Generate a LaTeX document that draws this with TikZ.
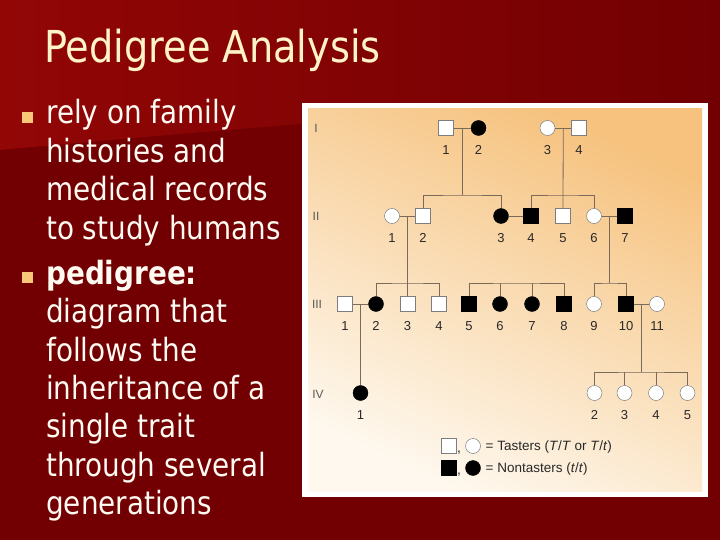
\documentclass[tikz,border=0pt]{standalone}
\usepackage{fontspec}
\newfontfamily\slidefont[FakeStretch=0.87]{DejaVu Sans}
\newfontfamily\pedfont{Liberation Sans}
\usetikzlibrary{calc}
\definecolor{bgred}{RGB}{114,0,2}
\definecolor{bgtop}{RGB}{146,6,6}
\definecolor{titlecol}{RGB}{255,244,200}
\definecolor{bodycol}{RGB}{255,250,242}
\definecolor{bulletcol}{RGB}{250,198,122}
\definecolor{panelA}{RGB}{246,194,126}
\definecolor{panelB}{RGB}{254,248,238}
\definecolor{pedline}{RGB}{122,106,90}
\definecolor{outl}{RGB}{125,125,125}
\definecolor{numcol}{RGB}{40,40,40}
\newcommand\pers[5]{%
  \node[#2] (#1) at (#3,#4) {};
  \node[lab] (#1l) at (#3,{#4+22}) {#5};}
\begin{document}
\begin{tikzpicture}[x=1pt,y=-1pt,
  sq/.style={rectangle,draw=outl,fill=white,line width=0.5pt,minimum size=15pt,inner sep=0pt},
  fsq/.style={rectangle,draw=black,fill=black,minimum size=15pt,inner sep=0pt},
  ci/.style={circle,draw=outl,fill=white,line width=0.5pt,minimum size=15pt,inner sep=0pt},
  fci/.style={circle,draw=black,fill=black,minimum size=15pt,inner sep=0pt},
  lab/.style={inner sep=0pt,text=numcol,font=\pedfont\fontsize{13}{15}\selectfont},
  gen/.style={inner sep=0pt,text=black!65,font=\pedfont\fontsize{12}{14}\selectfont},
  ped/.style={draw=pedline,line width=0.8pt},
  body/.style={anchor=base west,inner sep=0pt,text=bodycol,font=\slidefont\fontsize{32}{38}\selectfont},
  bullet/.style={rectangle,fill=bulletcol,minimum size=11pt,inner sep=0pt},
  legtext/.style={anchor=west,inner sep=0pt,text=numcol,font=\pedfont\fontsize{13.5}{16}\selectfont}
]
\useasboundingbox (0,0) rectangle (720,540);
% background
\fill[bgred] (0,0) rectangle (720,540);
\shade[left color=bgtop,right color=bgred] (0,0) -- (720,0) -- (720,98)
  .. controls (480,108) and (240,128) .. (0,150) -- cycle;
% title
\node[anchor=base west,inner sep=0pt,text=titlecol,font=\slidefont\fontsize{44}{52}\selectfont] (title) at (44,63) {Pedigree Analysis};
% bullets and text
\node[bullet] (b1) at (27.2,117.2) {};
\node[bullet] (b2) at (27.2,277.4) {};
\node[body] (t1) at (46,124) {rely on family};
\node[body] (t2) at (46,162.4) {histories and};
\node[body] (t3) at (46,200.8) {medical records};
\node[body] (t4) at (46,239.2) {to study humans};
\node[body] (t5) at (46,284) {\bfseries pedigree:};
\node[body] (t6) at (46,322.6) {diagram that};
\node[body] (t7) at (46,361) {follows the};
\node[body] (t8) at (46,399.4) {inheritance of a};
\node[body] (t9) at (46,437.8) {single trait};
\node[body] (t10) at (46,476.2) {through several};
\node[body] (t11) at (46,514.6) {generations};
% panel
\fill[white] (302,103) rectangle (708,497);
\shade[top color=panelA,bottom color=panelB,shading angle=-25] (308,109) rectangle (702,491);
% generation numerals
\node[gen] (gI) at (316,128) {I};
\node[gen] (gII) at (316,216) {II};
\node[gen] (gIII) at (317,304) {III};
\node[gen] (gIV) at (318,394) {IV};
% generation I
\pers{I1}{sq}{446}{128}{1}
\pers{I2}{fci}{478.5}{128}{2}
\pers{I3}{ci}{547.5}{128}{3}
\pers{I4}{sq}{579}{128}{4}
% generation II
\pers{II1}{ci}{392}{216}{1}
\pers{II2}{sq}{423}{216}{2}
\pers{II3}{fci}{501}{216}{3}
\pers{II4}{fsq}{531}{216}{4}
\pers{II5}{sq}{563}{216}{5}
\pers{II6}{ci}{594}{216}{6}
\pers{II7}{fsq}{625}{216}{7}
% generation III
\pers{III1}{sq}{345}{304}{1}
\pers{III2}{fci}{376}{304}{2}
\pers{III3}{sq}{407.5}{304}{3}
\pers{III4}{sq}{439}{304}{4}
\pers{III5}{fsq}{469}{304}{5}
\pers{III6}{fci}{500}{304}{6}
\pers{III7}{fci}{532}{304}{7}
\pers{III8}{fsq}{564}{304}{8}
\pers{III9}{ci}{594}{304}{9}
\pers{III10}{fsq}{626}{304}{10}
\pers{III11}{ci}{657}{304}{11}
% generation IV
\pers{IV1}{fci}{360.5}{393}{1}
\pers{IV2}{ci}{594.5}{393}{2}
\pers{IV3}{ci}{624.5}{393}{3}
\pers{IV4}{ci}{656}{393}{4}
\pers{IV5}{ci}{687.5}{393}{5}
% marriages
\draw[ped] (I1) -- (I2);
\draw[ped] (I3) -- (I4);
\draw[ped] (II1) -- (II2);
\draw[ped] (II3) -- (II4);
\draw[ped] (II6) -- (II7);
\draw[ped] (III1) -- (III2);
\draw[ped] (III10) -- (III11);
% marriage midpoints
\coordinate (mA) at ($(I1)!0.5!(I2)$);
\coordinate (mB) at ($(I3)!0.5!(I4)$);
\coordinate (mC) at ($(II1)!0.5!(II2)$);
\coordinate (mE) at ($(II6)!0.5!(II7)$);
\coordinate (mF) at ($(III1)!0.5!(III2)$);
\coordinate (mG) at ($(III10)!0.5!(III11)$);
% family A
\draw[ped] (mA) -- ++(0,67) coordinate (bA);
\draw[ped] (II2.north) |- (bA) -| (II3.north);
% family B
\coordinate (bB) at ($(mB)+(0,67)$);
\draw[ped] (mB) -- (II5.north);
\draw[ped] (II4.north) |- (bB) -| (II6.north);
% family C
\coordinate (bC) at ($(mC)+(0,67)$);
\draw[ped] (mC) -- (III3.north);
\draw[ped] (III2.north) |- (bC) -| (III4.north);
% family D (sibship only)
\coordinate (bD) at (516.5,283);
\draw[ped] (III5.north) |- (bD) -| (III8.north);
\draw[ped] (III6.north) -- (III6 |- bD);
\draw[ped] (III7.north) -- (III7 |- bD);
% family E
\draw[ped] (mE) -- ++(0,67) coordinate (bE);
\draw[ped] (III9.north) |- (bE) -| (III10.north);
% family F
\draw[ped] (mF) -- (IV1.north);
% family G
\draw[ped] (mG) -- ++(0,68) coordinate (bG);
\draw[ped] (IV2.north) |- (bG) -| (IV5.north);
\draw[ped] (IV3.north) -- (IV3 |- bG);
\draw[ped] (IV4.north) -- (IV4 |- bG);
% legend
\node[sq] (lsq1) at (448.5,446) {};
\node[anchor=base,inner sep=0pt,text=numcol,font=\pedfont\fontsize{14}{16}\selectfont] (lcm1) at (459,452) {,};
\node[ci] (lci1) at (473,446) {};
\node[legtext] (lt1) at (485.5,447) {= Tasters (\textit{T}/\textit{T} or \textit{T}/\textit{t})};
\node[fsq] (lsq2) at (449,468) {};
\node[anchor=base,inner sep=0pt,text=numcol,font=\pedfont\fontsize{14}{16}\selectfont] (lcm2) at (459,474) {,};
\node[fci] (lci2) at (473,468) {};
\node[legtext] (lt2) at (485.5,469) {= Nontasters (\textit{t}/\textit{t})};
\end{tikzpicture}
\end{document}
